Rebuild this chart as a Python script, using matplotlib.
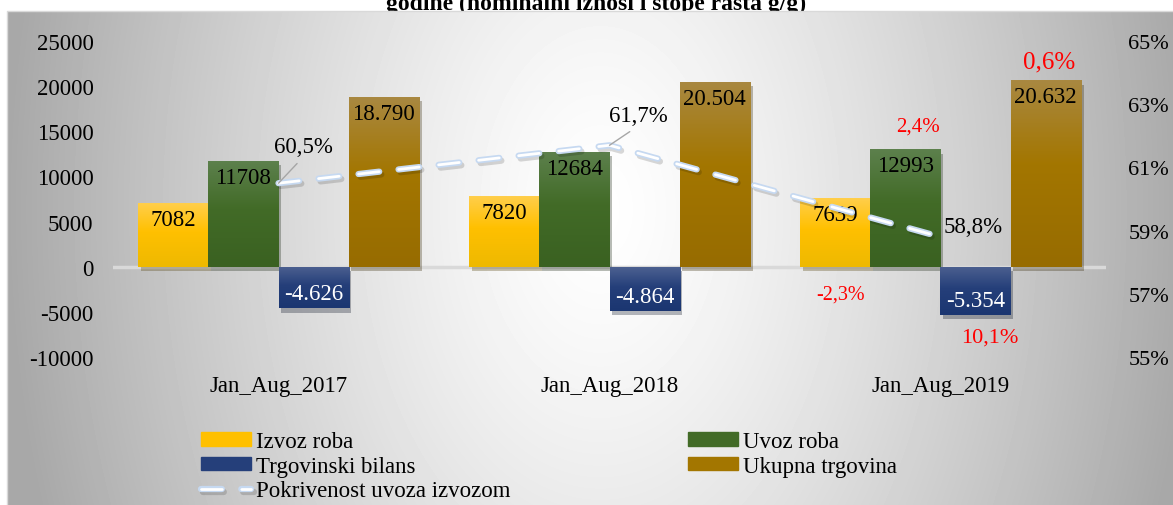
import numpy as np
import matplotlib
matplotlib.use('Agg')
import matplotlib.pyplot as plt
import matplotlib.patheffects as pe
from matplotlib.colors import LinearSegmentedColormap
from matplotlib.patches import Patch
from matplotlib.lines import Line2D

plt.rcParams['font.family'] = ['Liberation Serif', 'DejaVu Serif']
plt.rcParams['axes.unicode_minus'] = False

#   Data
CATEGORIES = ['Jan_Aug_2017', 'Jan_Aug_2018', 'Jan_Aug_2019']
IZVOZ = [7082, 7820, 7639]
UVOZ = [11708, 12684, 12993]
BILANS = [-4626, -4864, -5354]
UKUPNO = [18790, 20504, 20632]
POKRIVENOST = [60.5, 61.7, 58.8]
# stope rasta 2019/2018 (g/g): izvoz, uvoz, bilans, ukupno
RAST_2019 = [-2.3, 2.4, 10.1, 0.6]

LABELS = ['Izvoz roba', 'Uvoz roba', 'Trgovinski bilans', 'Ukupna trgovina']
LINE_LABEL = 'Pokrivenost uvoza izvozom'
TITLE = 'godine (nominalni iznosi i stope rasta g/g)'

# (top, middle, bottom) colours of the bar gradients
COLS = [('#FFCE4A', '#FFC000', '#EEB900'),
        ('#5C804C', '#426B27', '#3A6121'),
        ('#4C6090', '#253F7A', '#1B3671'),
        ('#A98840', '#A37600', '#976C00')]

W, H = 1173, 506
fig = plt.figure(figsize=(W / 100, H / 100), dpi=100)

# background with radial gradient
bg = fig.add_axes([0, 0, 1, 1], zorder=-10)
bg.set_xlim(0, W)
bg.set_ylim(H, 0)
bg.axis('off')
yy, xx = np.mgrid[12:H, 7:W]
r = np.sqrt(((xx - 600) / 590.0) ** 2 + ((yy - 210) / 900.0) ** 2)
shade = 1 - 0.34 * np.clip(r, 0, 1) ** 1.3
bg.imshow(shade, cmap='gray', vmin=0, vmax=1, extent=[7, W, H, 12],
          aspect='auto', interpolation='bilinear')
bg.plot([7, 7, W], [H, 12, 12], color='#D9D9D9', lw=1)

fig.text(596 / W, 1 - 10 / H, TITLE, ha='center', va='baseline',
         fontsize=17, fontweight='bold', zorder=-20)

ax = fig.add_axes([113 / W, 1 - 358 / H, 993 / W, 316 / H])
ax.set_facecolor('none')
for s in ax.spines.values():
    s.set_visible(False)

x = np.arange(len(CATEGORIES))
w = 0.212
offsets = [-1.5, -0.5, 0.5, 1.5]
series = [IZVOZ, UVOZ, BILANS, UKUPNO]
shadow = [pe.SimplePatchShadow(offset=(2, -3), alpha=0.3), pe.Normal()]

all_bars = []
for vals, off, (ctop, cmid, cbot) in zip(series, offsets, COLS):
    bars = ax.bar(x + off * w, vals, w, color=cmid, zorder=2,
                  path_effects=shadow)
    cmap = LinearSegmentedColormap.from_list('g', [(0, cbot), (0.55, cmid), (1, ctop)])
    grad = np.linspace(0, 1, 64).reshape(-1, 1)
    for b in bars:
        y0, y1 = sorted([b.get_y(), b.get_y() + b.get_height()])
        im = ax.imshow(grad, cmap=cmap, origin='lower', aspect='auto',
                       extent=[b.get_x(), b.get_x() + w, y0, y1],
                       interpolation='bilinear', zorder=2.1)
        im.set_clip_path(b)
    all_bars.append(bars)

ax.axhline(0, color='#D9D9D9', lw=2.5, zorder=1.5)

# value labels
for i, (vals, bars) in enumerate(zip(series, all_bars)):
    for v, b in zip(vals, bars):
        if i < 2:
            txt = str(v)
        else:
            txt = f'{v:,}'.replace(',', '.')
        bx = b.get_x() + w / 2
        if v >= 0:
            ax.annotate(txt, (bx, v), xytext=(0, -6), textcoords='offset pixels',
                        ha='center', va='top', fontsize=16.5, zorder=4)
        else:
            ax.annotate(txt, (bx, v), xytext=(0, 4), textcoords='offset pixels',
                        ha='center', va='bottom', fontsize=16.5, color='white',
                        zorder=4)

# red growth rates for 2019
rast_pos = [((5, -27), 14.5), ((13, 23), 15), ((14, -22), 16), ((3, 19), 18)]
for i, (g, (off, fs)) in enumerate(zip(RAST_2019, rast_pos)):
    b = all_bars[i][-1]
    bx = b.get_x() + w / 2
    yv = 0 if i == 0 else series[i][-1]
    ax.annotate(f'{g:.1f}%'.replace('.', ','), (bx, yv), xytext=off,
                textcoords='offset pixels', ha='center', va='center',
                fontsize=fs, color='#FF0000', zorder=4)

ax.set_xlim(-0.5, 2.5)
ax.set_ylim(-10000, 25000)
ax.set_yticks(range(-10000, 25001, 5000))
ax.set_xticks(x, CATEGORIES)
ax.tick_params(axis='y', length=0, pad=14, labelsize=16.5)
ax.tick_params(axis='x', length=0, pad=13, labelsize=16.5)

# coverage line on the right axis
ax2 = ax.twinx()
for s in ax2.spines.values():
    s.set_visible(False)
ax2.set_ylim(55, 65)
ax2.set_yticks(range(55, 66, 2), [f'{t}%' for t in range(55, 66, 2)])
ax2.tick_params(axis='y', length=0, pad=16, labelsize=16)

line_fx = [pe.SimpleLineShadow(offset=(1.5, -2), alpha=0.15, linewidth=4.5),
           pe.Stroke(linewidth=4.5, foreground='#C6D9F1'), pe.Normal()]
line_kw = dict(color='white', lw=2, dashes=(7.5, 7), dash_capstyle='round',
               path_effects=line_fx)
ax2.plot(x, POKRIVENOST, zorder=5, **line_kw)

pct_off = [(25, 37), (29, 30), (33, 10)]
for xi, v, off in zip(x, POKRIVENOST, pct_off):
    arrow = None
    if xi < 2:
        arrow = dict(arrowstyle='-', color='#A6A6A6', lw=1, shrinkA=4,
                     shrinkB=0, relpos=(0.5, 0))
    ax2.annotate(f'{v:.1f}%'.replace('.', ','), (xi, v), xytext=off,
                 textcoords='offset pixels', ha='center', va='center',
                 fontsize=16.5, arrowprops=arrow, zorder=6)

# legend
h = [Patch(color=c[1]) for c in COLS]
hl = Line2D([], [], **line_kw)
leg_kw = dict(loc='upper left', frameon=False, fontsize=16.5, handlelength=2.2,
              handleheight=0.55, handletextpad=0.2, labelspacing=0.16,
              borderpad=0, borderaxespad=0)
fig.legend([h[0], h[2], hl], [LABELS[0], LABELS[2], LINE_LABEL],
           bbox_to_anchor=(201 / W, 1 - 432 / H), **leg_kw)
fig.legend([h[1], h[3]], [LABELS[1], LABELS[3]],
           bbox_to_anchor=(688 / W, 1 - 432 / H), **leg_kw)

fig.savefig('out.png', dpi=100)
